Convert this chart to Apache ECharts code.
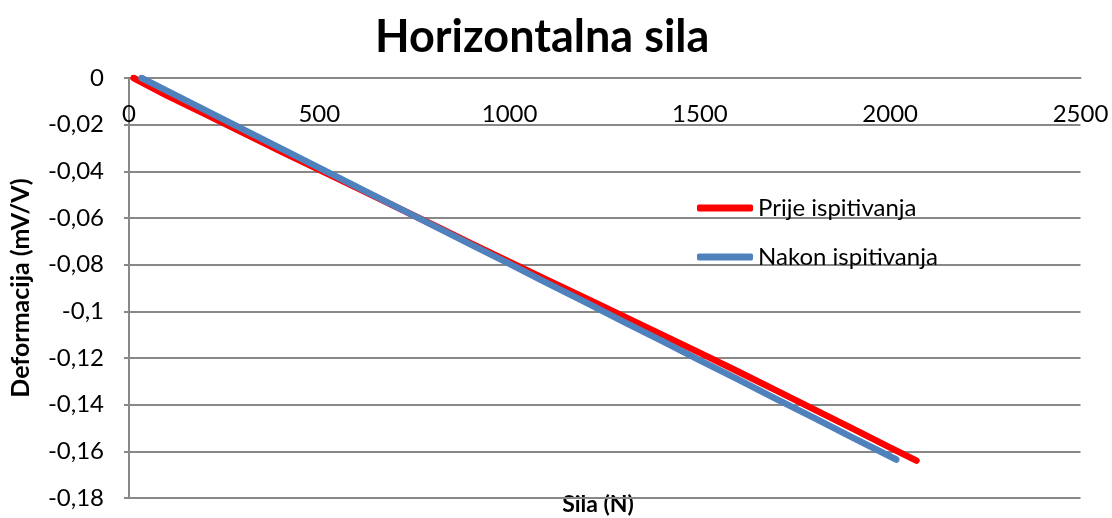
<!DOCTYPE html>
<html>
<head>
<meta charset="utf-8">
<script src="https://cdn.jsdelivr.net/npm/echarts@6/dist/echarts.min.js"></script>
<style>
  html, body { margin: 0; padding: 0; background: #ffffff; }
  #chart { width: 1112px; height: 518px; }
</style>
</head>
<body>
<div id="chart"></div>
<script>
// Force (N) and strain signal (mV/V), before testing
const prijeSila = [12, 100, 200, 300, 400, 500, 600, 700, 800, 900, 1000, 1100, 1200, 1300, 1400, 1500, 1600, 1700, 1800, 1900, 2000, 2069];
const prijeDef  = [0, -0.0075, -0.0155, -0.0235, -0.0315, -0.0393, -0.0472, -0.0551, -0.0630, -0.0710, -0.0788, -0.0866, -0.0944, -0.1022, -0.1100, -0.1178, -0.1258, -0.1339, -0.1420, -0.1502, -0.1584, -0.1640];

// Force (N) and strain signal (mV/V), after testing
const nakonSila = [33, 100, 200, 300, 400, 500, 600, 700, 800, 900, 1000, 1100, 1200, 1300, 1400, 1500, 1600, 1700, 1800, 1900, 2016];
const nakonDef  = [0, -0.0055, -0.0138, -0.0220, -0.0303, -0.0385, -0.0468, -0.0550, -0.0633, -0.0715, -0.0797, -0.0880, -0.0962, -0.1045, -0.1127, -0.1210, -0.1292, -0.1375, -0.1457, -0.1540, -0.1635];

const seriesNames = ['Prije ispitivanja', 'Nakon ispitivanja'];
const xTicks = [0, 500, 1000, 1500, 2000, 2500];
const yTicks = [0, -0.02, -0.04, -0.06, -0.08, -0.1, -0.12, -0.14, -0.16, -0.18];

const FONT = 'Lato';
const GRID_COLOR = '#888888';

function pairs(xs, ys) {
  return xs.map((x, i) => [x, ys[i]]);
}

const chart = echarts.init(document.getElementById('chart'), null, { renderer: 'canvas' });

chart.setOption({
  backgroundColor: '#ffffff',
  animation: false,
  textStyle: { fontFamily: FONT, color: '#000' },
  title: {
    text: 'Horizontalna sila',
    left: 375,
    top: 15,
    padding: 0,
    textStyle: { fontFamily: FONT, fontSize: 45, fontWeight: 'bold', color: '#000' }
  },
  grid: { left: 126.5, right: 31.5, top: 78, bottom: 20, containLabel: false },
  legend: {
    orient: 'vertical',
    left: 697,
    top: 195,
    padding: 0,
    itemWidth: 56,
    itemHeight: 7,
    itemGap: 23,
    icon: 'roundRect',
    textStyle: { fontFamily: FONT, fontSize: 24, color: '#000', lineHeight: 26 },
    data: seriesNames
  },
  xAxis: {
    type: 'value',
    position: 'top',
    min: xTicks[0],
    max: xTicks[xTicks.length - 1],
    interval: 500,
    axisLine: { show: true, onZero: false, lineStyle: { color: GRID_COLOR, width: 2 } },
    axisTick: { show: false },
    splitLine: { show: false },
    axisLabel: {
      inside: true,
      margin: 36,
      fontFamily: FONT,
      fontSize: 24,
      color: '#000',
      verticalAlign: 'middle',
      formatter: v => String(v)
    }
  },
  yAxis: {
    type: 'value',
    min: yTicks[yTicks.length - 1],
    max: yTicks[0],
    interval: 0.02,
    name: 'Deformacija (mV/V)',
    nameLocation: 'middle',
    nameGap: 96,
    nameTextStyle: { fontFamily: FONT, fontSize: 25, fontWeight: 'bold', color: '#000' },
    axisLine: { show: true, lineStyle: { color: GRID_COLOR, width: 2 } },
    axisTick: { show: true, length: 5, lineStyle: { color: GRID_COLOR, width: 2 } },
    splitLine: { show: true, lineStyle: { color: GRID_COLOR, width: 2 } },
    axisLabel: {
      margin: 25,
      fontFamily: FONT,
      fontSize: 24,
      color: '#000',
      formatter: v => String(Number(v.toFixed(2))).replace('.', ',')
    }
  },
  graphic: [{
    type: 'text',
    x: 598,
    y: 505,
    style: {
      text: 'Sila (N)',
      font: 'bold 23px ' + FONT,
      fill: '#000',
      textAlign: 'center',
      textVerticalAlign: 'middle'
    }
  }],
  series: [
    {
      name: seriesNames[0],
      type: 'line',
      data: pairs(prijeSila, prijeDef),
      showSymbol: false,
      symbol: 'none',
      color: '#FF0000',
      lineStyle: { color: '#FF0000', width: 6.5, cap: 'round' },
      z: 2
    },
    {
      name: seriesNames[1],
      type: 'line',
      data: pairs(nakonSila, nakonDef),
      showSymbol: false,
      symbol: 'none',
      color: '#4F81BD',
      lineStyle: { color: '#4F81BD', width: 6.5, cap: 'round' },
      z: 3
    }
  ]
});
</script>
</body>
</html>
